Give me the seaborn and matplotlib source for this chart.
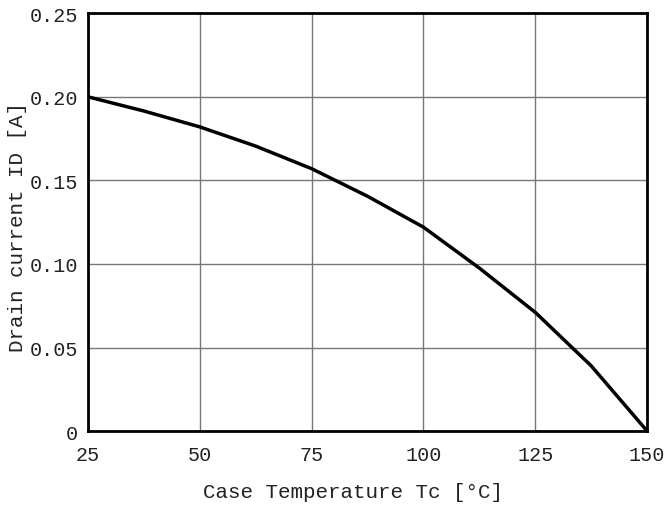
import numpy as np
import pandas as pd
import matplotlib
matplotlib.use("Agg")
import matplotlib.pyplot as plt
import seaborn as sns

temperatura = [25, 37.5, 50, 62.5, 75, 87.5, 100, 112.5, 125, 137.5, 150]
corriente = [0.200, 0.1915, 0.182, 0.1705, 0.157, 0.1405, 0.122, 0.0975, 0.071, 0.039, 0.000]

x_ticks = [25, 50, 75, 100, 125, 150]
y_ticks = [0, 0.05, 0.10, 0.15, 0.20, 0.25]
y_labels = ["0", "0.05", "0.10", "0.15", "0.20", "0.25"]

df = pd.DataFrame({"Tc": temperatura, "Id": corriente})

sns.set_style("white")
plt.rcParams["font.family"] = ["Liberation Mono", "DejaVu Sans Mono"]

fig = plt.figure(figsize=(6.7, 5.06), dpi=100)
ax = fig.add_axes([0.131, 0.146, 0.835, 0.826])

sns.lineplot(data=df, x="Tc", y="Id", color="black", linewidth=2.5, ax=ax)

ax.set_xlim(25, 150)
ax.set_ylim(0, 0.25)
ax.set_xticks(x_ticks)
ax.set_yticks(y_ticks)
ax.set_yticklabels(y_labels)
ax.grid(True, color="#777777", linewidth=1, linestyle="-")
ax.tick_params(length=0, labelsize=14.5, colors="#222222")
ax.tick_params(axis="x", pad=10)
ax.tick_params(axis="y", pad=7)
for s in ax.spines.values():
    s.set_color("black")
    s.set_linewidth(2)

ax.set_xlabel("Case Temperature Tc [°C]", fontsize=15, color="#222222")
ax.set_ylabel("Drain current ID [A]", fontsize=15, color="#222222")
ax.xaxis.set_label_coords(0.474, -0.122)
ax.yaxis.set_label_coords(-0.108, 0.49)

fig.savefig("out.png", dpi=100)
